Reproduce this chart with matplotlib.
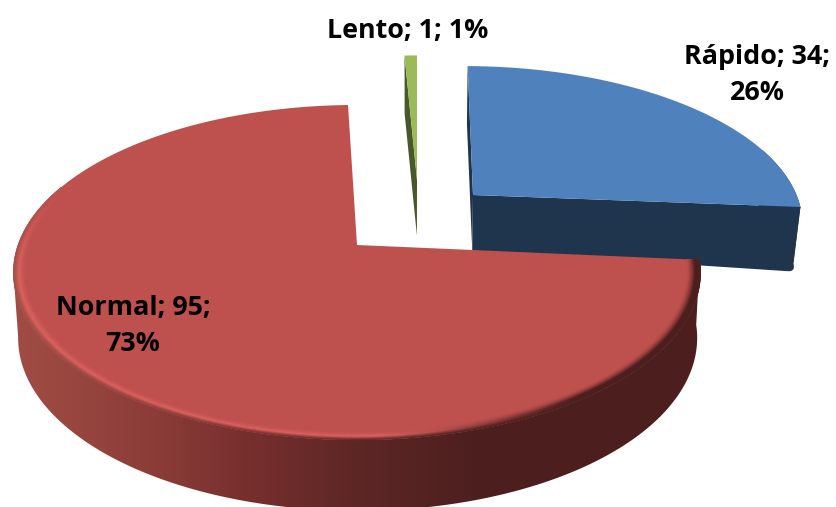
import numpy as np
import matplotlib
matplotlib.use('Agg')
import matplotlib.pyplot as plt
from matplotlib.collections import PolyCollection
from matplotlib.colors import to_rgb
from matplotlib.patches import Polygon

# Datos del gráfico
categorias = ['Rápido', 'Normal', 'Lento']
valores = [34, 95, 1]

# Geometría de cada porción (en píxeles): vértice, semiejes
vertices = {'Rápido': (473, 195), 'Normal': (357, 245), 'Lento': (417, 180)}
semiejes = {'Rápido': (325, 150), 'Normal': (339, 163), 'Lento': (300, 145)}
giro = {'Rápido': -0.5, 'Normal': 1.6, 'Lento': 0.6}     # ajuste fino del ángulo
inclinacion = {'Rápido': 0.012, 'Normal': 0.0, 'Lento': 0.0}
color_sup = {'Rápido': '#4F81BD', 'Normal': '#BE504D', 'Lento': '#9BBB59'}
color_lat = {'Rápido': '#1F344D', 'Normal': '#4C1F1E', 'Lento': '#49582A'}
etiquetas_pos = {'Rápido': (757, 75), 'Normal': (133, 326), 'Lento': (408, 31)}

ROTACION = -0.6   # ángulo de la primera porción
K = 0.164         # perspectiva
PROF = 55.5       # grosor
VX = 410


def mezcla(c1, c2, t):
    c1 = np.array(to_rgb(c1))
    c2 = np.array(to_rgb(c2))
    return tuple(c1 + (c2 - c1) * t)


def proyectar(cat, ang, r=1.0):
    cx, cy = vertices[cat]
    a, b = semiejes[cat]
    u = r * np.sin(np.radians(ang))
    v = r * np.cos(np.radians(ang))
    w = 1 + K * v
    x = cx + a * u / w
    return x, cy - b * v / w + inclinacion[cat] * (x - cx)


def abajo(cat, ang, r=1.0):
    x, y = proyectar(cat, ang, r)
    v = r * np.cos(np.radians(ang))
    d = PROF * (1 + 0.16 * r) * (1 - 0.1 * v)
    return VX + (x - VX) * 0.988, y + d


def color_pared(x):
    # degradado horizontal del lateral rojo
    xs = [20, 150, 250, 350, 480, 700]
    cs = ['#A04C44', '#8C3D38', '#762F2E', '#5E2726', '#4C1F1E', '#4C1F1E']
    arr = np.array([to_rgb(c) for c in cs])
    return tuple(np.interp(x, xs, arr[:, i]) for i in range(3))


def color_brillo(x):
    t = np.clip((x - 380) / 200, 0, 1)
    return mezcla('#DB625F', color_pared(x), t)


fig = plt.figure(figsize=(8.37, 5.07), dpi=100)
ax = fig.add_axes([0, 0, 1, 1])
ax.set_xlim(0, 837)
ax.set_ylim(507, 0)
ax.axis('off')

total = sum(valores)
inicio = ROTACION
rangos = {}
for cat, val in zip(categorias, valores):
    paso = 360 * val / total
    rangos[cat] = (inicio + giro[cat], inicio + giro[cat] + paso)
    inicio += paso

zorden = {'Lento': 1, 'Rápido': 2, 'Normal': 3}
for cat in categorias:
    a0, a1 = rangos[cat]
    angs = np.linspace(a0, a1, int((a1 - a0) * 3) + 4)
    z = zorden[cat]
    sup = [proyectar(cat, a) for a in angs]

    # caras de corte (sólo las visibles)
    if cat != 'Normal':
        for ang in (a0, a1):
            r_fin = 0.975 if (cat == 'Rápido' and ang == a1) else 1
            cara = [proyectar(cat, ang, 1), proyectar(cat, ang, 0),
                    abajo(cat, ang, 0), abajo(cat, ang, r_fin)]
            ax.fill(*zip(*cara), color=color_lat[cat], lw=0, zorder=z)

    # pared exterior: sólo el tramo que se ve de frente
    if cat == 'Normal':
        xs = np.arange(0, 838)
        tramo = np.linspace(a0, 261, 500)
        contorno = [proyectar(cat, a) for a in tramo] + [abajo(cat, a) for a in tramo[::-1]]
        grad = np.array([[color_pared(x) for x in xs]])
        im = ax.imshow(grad, extent=(0, 837, 507, 0), aspect='auto', zorder=z, interpolation='bilinear')
        im.set_clip_path(Polygon(contorno, transform=ax.transData))
        ax.set_xlim(0, 837)
        ax.set_ylim(507, 0)
    elif cat == 'Rápido':
        tramo = np.linspace(70, a1 - 3, 120)
        contorno = [proyectar(cat, a) for a in np.linspace(70, a1, 120)] + [abajo(cat, a) for a in tramo[::-1]]
        ax.fill(*zip(*contorno), color=color_lat[cat], lw=0, zorder=z)
        # esquina redondeada abajo a la derecha
        A = np.array(abajo(cat, a1 - 3))
        B = np.array(abajo(cat, a1, 0.975))
        C = np.array(abajo(cat, a1))
        ts = np.linspace(0, 1, 20)[:, None]
        arco = (1 - ts) ** 2 * A + 2 * ts * (1 - ts) * C + ts ** 2 * B
        esquina = [proyectar(cat, a1)] + [tuple(p) for p in arco] + [proyectar(cat, a1, 0.9)]
        ax.fill(*zip(*esquina), color=color_lat[cat], lw=0, zorder=z)

    # cara superior
    poly = [proyectar(cat, a0, 0)] + sup
    ax.fill(*zip(*poly), color=color_sup[cat], lw=0, zorder=z + 0.1)

    # bisel del borde
    if cat == 'Normal':
        radios = np.linspace(0.962, 1.0, 12)
        quads, cols = [], []
        for j in range(len(radios) - 1):
            t = (j + 0.5) / (len(radios) - 1)
            for i in range(len(angs) - 1):
                ang = angs[i]
                if ang > 292:
                    continue
                p = proyectar(cat, ang, radios[j])
                q = proyectar(cat, angs[i + 1], radios[j])
                s = proyectar(cat, angs[i + 1], radios[j + 1])
                r_ = proyectar(cat, ang, radios[j + 1])
                x = p[0]
                if t < 0.6:
                    c = mezcla(color_sup[cat], color_brillo(x), (t / 0.6) ** 1.5)
                else:
                    c = mezcla(color_brillo(x), color_pared(x), (t - 0.6) / 0.4)
                # se desvanece hacia el fondo por la izquierda
                f = np.clip((292 - ang) / 30, 0, 1)
                c = mezcla(color_sup[cat], c, f)
                quads.append([p, q, s, r_])
                cols.append(c)
        ax.add_collection(PolyCollection(quads, facecolors=cols, edgecolors=cols, linewidths=0.4, zorder=z + 0.2))

# Etiquetas de datos
for cat, val in zip(categorias, valores):
    pct = round(100 * val / total)
    if cat == 'Lento':
        txt = f'{cat}; {val}; {pct}%'
    else:
        txt = f'{cat}; {val};\n{pct}%'
    x, y = etiquetas_pos[cat]
    ax.text(x, y, txt, ha='center', va='center', family='Open Sans', fontweight='bold',
            fontsize=19.4, linespacing=1.52, color='black', zorder=10)

fig.savefig('out.png', dpi=100)
